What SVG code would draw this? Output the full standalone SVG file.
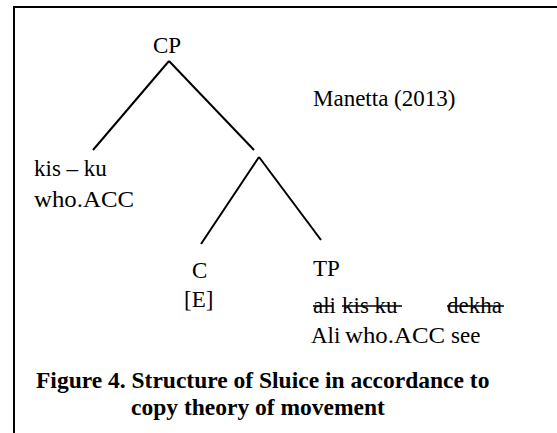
<svg xmlns="http://www.w3.org/2000/svg" width="557" height="433" viewBox="0 0 557 433">
<style>
text{font-family:"Liberation Serif","Times New Roman",serif;font-size:23px;fill:#000}
.b{font-weight:bold;font-size:23.5px}
.e line,line.s{stroke:#000;stroke-width:2}
line.k{stroke:#000;stroke-width:1.6}
</style>
<rect width="557" height="433" fill="#fff"/>
<g id="frame"><line class="s" x1="14" y1="7" x2="557" y2="7"/><line class="s" x1="14" y1="6" x2="14" y2="433"/></g>
<g class="e" id="connectors">
<line x1="169" y1="61" x2="93" y2="150"/>
<line x1="169" y1="61" x2="254" y2="150"/>
<line x1="259" y1="157" x2="201" y2="244"/>
<line x1="259" y1="157" x2="321" y2="240"/>
</g>
<g id="cp"><text x="153" y="53">CP</text></g>
<g id="source"><text x="313" y="106">Manetta (2013)</text></g>
<g id="spec"><text x="34" y="176">kis – ku</text><text x="34" y="207" textLength="100" lengthAdjust="spacingAndGlyphs">who.ACC</text></g>
<g id="c"><text x="192" y="278">C</text><text x="184" y="307">[E]</text></g>
<g id="tp"><text x="313" y="276">TP</text>
<text x="313" y="313">ali</text><text x="342" y="313">kis ku</text><text x="447" y="313">dekha</text>
<line class="k" x1="313" y1="306" x2="332" y2="306"/>
<line class="k" x1="342" y1="306" x2="402" y2="306"/>
<line class="k" x1="447" y1="306" x2="504" y2="306"/>
<text x="311" y="343">Ali</text><text x="345" y="343" textLength="100" lengthAdjust="spacingAndGlyphs">who.ACC</text><text x="451" y="343">see</text></g>
<g id="caption"><text class="b" x="36" y="388">Figure 4. Structure of Sluice in accordance to</text><text class="b" x="131" y="415">copy theory of movement</text></g>
</svg>
